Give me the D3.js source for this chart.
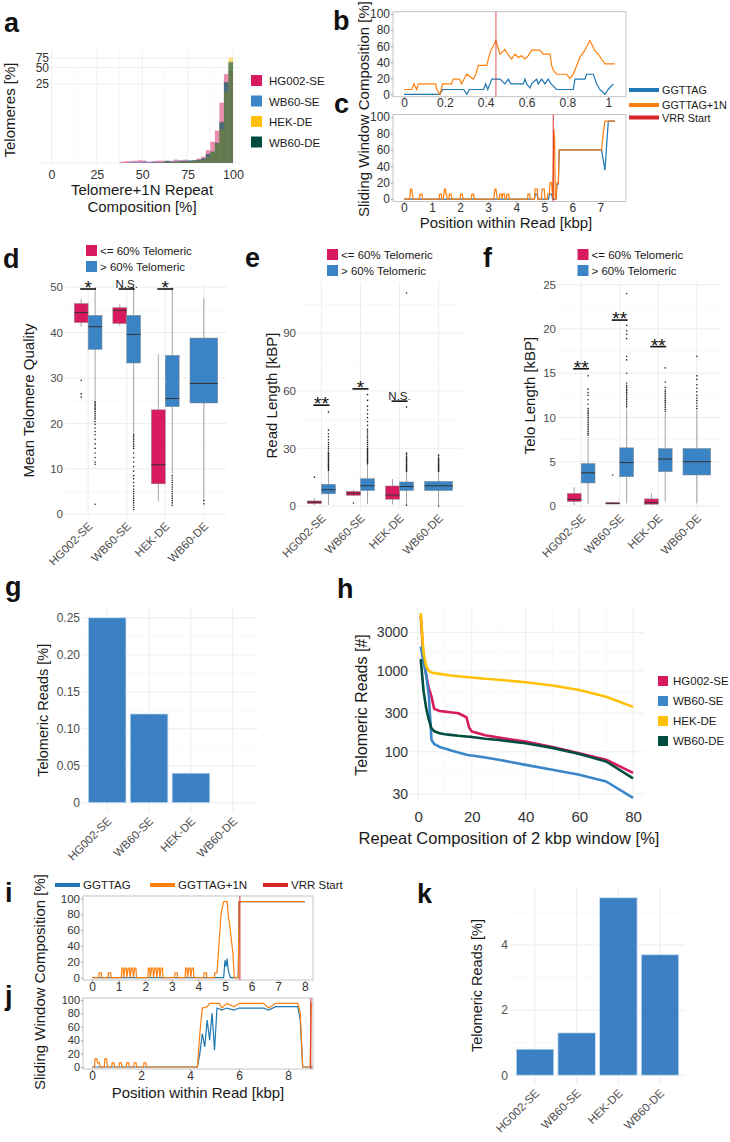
<!DOCTYPE html>
<html><head><meta charset="utf-8">
<script src="https://cdn.jsdelivr.net/npm/d3@7"></script>
<style>body{margin:0;background:#fff}svg{display:block}text{font-family:"Liberation Sans",Arial,sans-serif}</style>
</head><body><svg id="fig" width="730" height="1142"></svg>
<script>
// ---------------- DATA ----------------
const samples = ["HG002-SE","WB60-SE","HEK-DE","WB60-DE"];
const teloGroups = ["<= 60% Telomeric", "> 60% Telomeric"];
// panel a : histogram (% of telomeres per 2.5% bin, bin lower edges)
const histBins = [37.5,40,42.5,45,47.5,50,52.5,55,57.5,60,62.5,65,67.5,70,72.5,75,77.5,80,82.5,85,87.5,90,92.5,95,97.5];
const histHG002SE = [0.05,0.08,0.08,0.1,0.12,0.1,0.05,0.08,0.1,0.1,0.08,0.1,0.15,0.12,0.15,0.1,0.12,0.2,0.3,0.7,1.4,2.8,11,38,44];
const histWB60SE  = [0,0,0.05,0.05,0.05,0.08,0.05,0.05,0.05,0.05,0.08,0.08,0.1,0.1,0.1,0.12,0.12,0.14,0.22,0.45,0.6,1.25,4.1,26.5,65];
const histHEKDE   = [0,0,0,0,0,0,0,0,0.02,0.02,0.03,0.03,0.05,0.05,0.05,0.06,0.08,0.1,0.15,0.3,0.6,1.2,3,18,76];
const histWB60DE  = [0,0,0,0,0,0,0,0.02,0.02,0.03,0.1,0.05,0.05,0.08,0.08,0.1,0.12,0.15,0.2,0.45,0.6,1.3,4.5,27,62];
const histTicksX = [0,25,50,75,100];
const histTicksY = [25,50,75];
// panel b : sliding window (kbp, %)
const bOrange = [[0,6],[0.038,6],[0.049,13],[0.062,6],[0.07,13],[0.155,13],[0.16,6],[0.176,0],[0.189,13],[0.233,13],[0.241,19],[0.271,19],[0.282,13],[0.294,19],[0.307,25],[0.339,19],[0.352,25],[0.364,36],[0.405,36],[0.421,52],[0.45,67],[0.47,50],[0.494,56],[0.511,49],[0.527,44],[0.543,50],[0.56,46],[0.576,48],[0.592,44],[0.608,48],[0.625,55],[0.666,55],[0.682,50],[0.715,50],[0.723,36],[0.731,30],[0.747,25],[0.796,25],[0.812,20],[0.829,25],[0.861,46],[0.886,55],[0.91,67],[0.935,54],[0.951,50],[0.967,44],[0.984,38],[1.033,38]];
const bBlue = [[0,0],[0.176,0],[0.189,6],[0.292,6],[0.308,0],[0.32,6],[0.39,6],[0.4,13],[0.41,6],[0.43,19],[0.47,19],[0.494,13],[0.511,19],[0.523,13],[0.584,13],[0.592,19],[0.6,13],[0.617,8],[0.625,13],[0.649,19],[0.657,13],[0.674,19],[0.69,13],[0.706,19],[0.72,13],[0.747,6],[0.829,6],[0.837,19],[0.886,19],[0.894,25],[0.927,25],[0.943,13],[0.959,6],[0.984,0],[1.0,6],[1.025,13]];
const bVRR = 0.45;
const bTicksX = [0,0.2,0.4,0.6,0.8,1];
const pctTicks = [0,20,40,60,80,100];
// panel c
const cOrange = [[0,0],[0.2,0],[0.22,6],[0.24,12],[0.28,12],[0.3,6],[0.33,0],[0.55,0],[0.57,6],[0.64,6],[0.66,0],[1.25,0],[1.27,6],[1.33,6],[1.35,0],[1.4,0],[1.42,6],[1.44,12],[1.48,12],[1.5,6],[1.52,6],[1.54,0],[1.6,0],[1.62,6],[1.68,6],[1.7,0],[2.0,0],[2.02,6],[2.08,6],[2.1,0],[2.4,0],[2.42,6],[2.48,6],[2.5,0],[3.2,0],[3.22,6],[3.24,12],[3.28,12],[3.3,6],[3.33,0],[3.4,0],[3.42,6],[3.48,6],[3.5,0],[3.52,6],[3.58,6],[3.6,0],[3.65,0],[3.67,6],[3.73,6],[3.75,0],[4.4,0],[4.42,6],[4.48,6],[4.5,0],[4.65,0],[4.67,12],[4.75,12],[4.77,0],[4.9,0],[4.92,12],[5.0,12],[5.02,0],[5.1,0],[5.12,6],[5.18,6],[5.2,20],[5.26,20],[5.3,0],[5.34,85],[5.37,70],[5.39,0],[5.42,0],[5.45,20],[5.5,20],[5.53,60],[7.04,60],[7.1,80],[7.16,95],[7.52,95]];
const cBlue = [[0,0],[4.65,0],[4.68,6],[4.74,6],[4.77,0],[5.15,0],[5.18,6],[5.26,6],[5.3,0],[5.42,0],[5.45,18],[5.5,18],[5.53,60],[7.04,60],[7.16,35],[7.28,95],[7.52,95]];
const cVRR = 5.32;
const cTicksX = [0,1,2,3,4,5,6,7];
// panel d : mean telomere quality  [lowWhisker, Q1, median, Q3, highWhisker]
const qualLow  = [[41.3,42.2,44.4,46.4,47.4],[41.5,42,44.9,45.5,46.2],[2.8,6.7,10.9,23,35.2],null];
const qualHigh = [[25.2,36.3,41.3,43.8,50],[18,33.3,39.6,43.8,50],[9,23.7,25.5,35,50],[3.2,24.5,28.8,38.8,47.5]];
const qualLowOut  = [[29.5,26.5,25.8],[],[],null];
const qualHighOut = [[24.8,24.5,24.2,23.9,23.6,23.3,23,22.6,22.2,21.8,21.4,21,20.4,19.8,19,18.2,17.5,16.5,15.5,14.5,13.5,12.5,11.5,11,2.2],
  [17.6,17.2,16.8,16.4,16,15.5,15,14.5,13.5,12.5,11.5,10.5,9.5,8.5,7.8,7,6.2,5.5,5,4.5,4,3.5,3,2.5,2,1.5,1],
  [8.5,8,7.5,7,6.5,6,5.5,5,4.5,4,3.5,3,2.5,2],[3,2.3]];
const qualSig = ["*","N.S.","*",null];
const qualSigAt = [49.6,49.6,49.6,null];
const qualTicks = [0,10,20,30,40,50];
// panel e : read length
const readLow  = [[0.5,1.2,2,2.6,4],[5.2,5.5,6.6,7.6,8.5],[0.8,3.5,5.7,10.4,14],null];
const readHigh = [[0.5,6.3,8.4,11.3,18],[1,8,10.5,14.2,22],[1,8,10.1,12.5,17.5],[0.5,8,10.5,12.8,17.5]];
const readLowOut = [[15],[1.5],[],null];
const readHighOut = [[18.5,19,19.5,20,20.5,21,21.5,22,22.5,23,23.5,24,24.5,25,25.5,26,26.5,27,27.5,28,29,30,31,32,33,34.5,36,37.5,39.5,49],
  [22,22.5,23,23.5,24,24.5,25,25.5,26,26.5,27,27.5,28,28.5,29,29.5,30,31,32,33,34,35,36,37,38,39,40,42,44,46,48,50,52,55,58],
  [18,18.5,19,19.5,20,20.5,21,21.5,22,22.5,23,23.5,24,24.5,25,25.5,26,27,27.5,51.5,111,0.4],
  [18,18.5,19,19.5,20,20.5,21,21.5,22,22.5,23,23.5,24,24.5,25,26,26.5,0]];
const readSig = ["**","*","N.S.",null];
const readSigAt = [52.5,61,54.6,null];
const readTicks = [0,30,60,90];
// panel f : telomere length
const teloLow  = [[0.1,0.5,0.75,1.43,2.1],[0.15,0.22,0.3,0.4,0.5],[0.1,0.2,0.37,0.8,1.45],null];
const teloHigh = [[0.2,2.6,3.75,4.8,7.8],[0.3,3.3,4.9,6.57,11],[0.5,3.87,5.3,6.5,10.5],[0.3,3.5,5,6.5,10.8]];
const teloLowOut = [[],[3.5],[],null];
const teloHighOut = [[8,8.2,8.4,8.6,8.8,9,9.2,9.4,9.6,9.8,10,10.2,10.4,10.6,10.8,11,11.5,12,12.5,12.8,13.2,14.7],
  [11.2,11.4,11.6,11.8,12,12.2,12.4,12.6,12.8,13,13.2,13.4,13.6,13.9,15,16.5,16.9,18.9,19.4,19.8,20.4,24],
  [10.7,10.9,11.1,11.3,11.5,11.7,11.9,12.1,12.3,12.5,12.7,12.9,13.1,13.4,14,15.6],
  [11,11.3,11.6,11.9,12.2,12.5,12.9,13.3,13.7,14.3,14.7,16.9]];
const teloSig = ["**","**","**",null];
const teloSigAt = [15.5,21,18,null];
const teloTicks = [0,5,10,15,20,25];
// panel g
const gReads = [0.25,0.12,0.04,0];
const gTicks = [0,0.05,0.10,0.15,0.20,0.25];
// panel h : telomeric reads vs repeat composition threshold
const hX = [1,2,3,4,5,6,7,8,10,12,15,18,19,20,25,30,40,50,60,70,80];
const hHG002SE = [4800,1500,900,620,480,340,330,320,314,308,300,268,200,178,160,150,134,115,96,80,55];
const hWB60SE  = [2000,1300,900,500,141,125,120,115,110,105,98,92,91,90,85,80,69,60,52,43,27];
const hHEKDE   = [5200,1700,1150,1000,960,940,930,920,900,880,860,840,835,830,800,780,725,660,583,481,360];
const hWB60DE  = [1400,580,350,250,195,180,175,170,165,162,158,155,154,153,145,140,128,112,94,76,47];
const hTicksY = [30,100,300,1000,3000];
const hTicksX = [0,20,40,60,80];
// panel i
const iOrange = [[0,0],[0.25,0],[0.27,6],[0.35,6],[0.37,0],[0.6,0],[0.62,6],[0.7,6],[0.72,0],[1.1,0],[1.12,12],[1.17,12],[1.19,0],[1.24,12],[1.29,12],[1.31,0],[1.36,12],[1.41,12],[1.43,0],[1.48,12],[1.53,12],[1.55,0],[1.6,12],[1.65,12],[1.67,0],[2.1,0],[2.12,12],[2.17,12],[2.19,0],[2.24,12],[2.29,12],[2.31,0],[2.36,12],[2.41,12],[2.43,0],[2.48,12],[2.53,12],[2.55,0],[2.6,12],[2.65,12],[2.67,0],[3.1,0],[3.12,6],[3.2,6],[3.22,0],[3.5,0],[3.52,12],[3.57,12],[3.59,0],[3.64,12],[3.69,12],[3.71,0],[3.76,12],[3.81,12],[3.83,0],[4.2,0],[4.22,6],[4.3,6],[4.32,0],[4.6,0],[4.62,6],[4.7,6],[4.75,30],[4.85,80],[4.95,96],[5.08,96],[5.12,80],[5.2,60],[5.25,45],[5.3,30],[5.35,0],[5.5,0],[5.53,96],[8.0,96]];
const iBlue = [[0,0],[4.95,0],[5.0,22],[5.04,14],[5.08,24],[5.12,10],[5.2,0],[5.5,0],[5.53,96],[8.0,96]];
const iVRR = 5.56;
const iTicksX = [0,1,2,3,4,5,6,7,8];
// panel j
const jOrange = [[0,0],[0.1,0],[0.12,12],[0.2,12],[0.22,6],[0.3,6],[0.32,0],[0.5,0],[0.52,12],[0.6,12],[0.62,0],[0.8,0],[0.82,6],[0.9,6],[0.92,0],[1.1,0],[1.12,6],[1.2,6],[1.22,0],[1.4,0],[1.42,6],[1.5,6],[1.52,0],[1.7,0],[1.72,6],[1.8,6],[1.82,0],[2.1,0],[2.12,6],[2.2,6],[2.22,0],[4.3,0],[4.4,50],[4.5,88],[4.7,90],[4.8,95],[5.2,95],[5.3,88],[5.5,95],[5.8,90],[6.0,95],[7.0,95],[7.2,88],[7.5,95],[8.4,95],[8.5,80],[8.6,0],[8.9,0],[8.95,95],[9.0,95]];
const jBlue = [[0,0],[4.3,0],[4.4,20],[4.5,50],[4.6,30],[4.7,70],[4.8,40],[4.9,80],[5.0,25],[5.1,88],[5.3,85],[5.5,88],[5.8,85],[6,88],[7,88],[7.2,85],[7.5,90],[8.4,90],[8.5,70],[8.6,0],[9.0,0]];
const jVRR = 8.93;
const jTicksX = [0,2,4,6,8];
// panel k
const kReads = [0.8,1.3,5.45,3.7];
const kTicks = [0,2,4];
const motifSeries = ["GGTTAG","GGTTAG+1N","VRR Start"];

// ---------------- STYLE ----------------
const svg = d3.select("#fig");
const FONT = '"Liberation Sans", Arial, sans-serif';
const sampleColor = {"HG002-SE":"#d81b60","WB60-SE":"#3a86c8","HEK-DE":"#ffc107","WB60-DE":"#004d40"};
const groupColor = ["#d81b60","#3a83c5"];
const motifColor = {"GGTTAG":"#1f77b4","GGTTAG+1N":"#ff7f0e","VRR Start":"#d62728"};
const GRID = "#ebebeb", MINOR = "#f3f3f3", TICK = "#4d4d4d";

function txt(g, x, y, s, o = {}) {
  const t = g.append("text").attr("x", x).attr("y", y).text(s)
    .attr("font-size", o.size || 12).attr("fill", o.fill || "#1a1a1a")
    .attr("text-anchor", o.anchor || "start").attr("font-family", FONT);
  if (o.weight) t.attr("font-weight", o.weight);
  if (o.rotate != null) t.attr("transform", `rotate(${o.rotate},${x},${y})`);
  return t;
}
function letter(x, y, s) { txt(svg, x, y, s, {size: 27, weight: "bold", fill: "#111"}); }
function styleAxis(sel, size, fill) {
  sel.attr("font-family", FONT).attr("font-size", size);
  sel.select(".domain").remove();
  sel.selectAll("text").attr("fill", fill || TICK);
}
function hLines(g, y, vals, x0, x1, col, w) {
  g.selectAll(null).data(vals).enter().append("line")
    .attr("x1", x0).attr("x2", x1).attr("y1", d => y(d)).attr("y2", d => y(d))
    .attr("stroke", col).attr("stroke-width", w);
}
function vLines(g, x, vals, y0, y1, col, w) {
  g.selectAll(null).data(vals).enter().append("line")
    .attr("y1", y0).attr("y2", y1).attr("x1", d => x(d)).attr("x2", d => x(d))
    .attr("stroke", col).attr("stroke-width", w);
}
function rotLabels(g, x, cats, yBase, size) {
  cats.forEach(c => g.append("text")
    .attr("transform", `translate(${x(c) + 5},${yBase}) rotate(-45)`)
    .attr("text-anchor", "end").attr("font-size", size).attr("font-family", FONT)
    .attr("fill", TICK).text(c));
}

// ---------------- PANEL A ----------------
(function () {
  const g = svg.append("g");
  const x = d3.scaleLinear().domain([0, 100]).range([51.5, 233]);
  const y = d3.scaleSymlog().constant(1).domain([0, 96]).range([163, 52]);
  vLines(g, x, [12.5, 37.5, 62.5, 87.5], 50, 166, MINOR, 0.6);
  vLines(g, x, histTicksX, 50, 166, GRID, 0.8);
  hLines(g, y, [0, 25, 50, 75], 40, 240, GRID, 0.8);
  const series = [histHG002SE, histWB60SE, histHEKDE, histWB60DE];
  series.forEach((vals, si) => {
    g.selectAll(null).data(histBins).enter().append("rect")
      .attr("x", d => x(d)).attr("width", d => x(d + 2.5) - x(d))
      .attr("y", (d, i) => y(vals[i])).attr("height", (d, i) => y(0) - y(vals[i]))
      .attr("fill", sampleColor[samples[si]]).attr("fill-opacity", 0.5);
  });
  g.append("g").attr("transform", "translate(0,170)")
    .call(d3.axisBottom(x).tickValues(histTicksX).tickSize(0).tickPadding(0))
    .call(s => styleAxis(s, 12.5, "#333"));
  g.append("g").attr("transform", "translate(49,0)")
    .call(d3.axisLeft(y).tickValues(histTicksY).tickSize(0).tickPadding(0))
    .call(s => styleAxis(s, 12, "#333"));
  txt(g, 142, 195, "Telomere+1N Repeat", {size: 15, anchor: "middle"});
  txt(g, 142, 212, "Composition [%]", {size: 15, anchor: "middle"});
  txt(g, 15, 110, "Telomeres [%]", {size: 15, anchor: "middle", rotate: -90});
  samples.forEach((s, i) => {
    g.append("rect").attr("x", 251).attr("y", 75 + i * 20.5).attr("width", 11).attr("height", 11).attr("fill", sampleColor[s]);
    txt(g, 269, 85 + i * 20.5, s, {size: 11.5});
  });
  letter(4, 32, "a");
})();

// ---------------- PANELS B/C/I/J (line frames) ----------------
function framePanel(o) {
  const g = svg.append("g");
  const x = d3.scaleLinear().domain(o.xDomain).range([o.left, o.right]);
  const y = d3.scaleLinear().domain([-3, 103]).range([o.bottom, o.top]);
  g.append("rect").attr("x", o.left).attr("y", o.top).attr("width", o.right - o.left).attr("height", o.bottom - o.top)
    .attr("fill", "none").attr("stroke", "#c4c4c4").attr("stroke-width", 1);
  g.append("g").attr("transform", `translate(${o.left},0)`)
    .call(d3.axisLeft(y).tickValues(pctTicks).tickSize(2).tickPadding(1))
    .call(s => { styleAxis(s, o.fs || 12, "#333"); s.selectAll("line").attr("stroke", "#aaa"); });
  g.append("g").attr("transform", `translate(0,${o.bottom})`)
    .call(d3.axisBottom(x).tickValues(o.xTicks).tickSize(2).tickPadding(0).tickFormat(d3.format("~g")))
    .call(s => { styleAxis(s, 12, "#333"); s.selectAll("line").attr("stroke", "#aaa"); });
  const line = d3.line().x(d => x(d[0])).y(d => y(d[1]));
  g.append("path").datum(o.blue).attr("d", line).attr("fill", "none").attr("stroke", motifColor["GGTTAG"]).attr("stroke-width", 1.2);
  g.append("path").datum(o.orange).attr("d", line).attr("fill", "none").attr("stroke", motifColor["GGTTAG+1N"]).attr("stroke-width", 1.2);
  g.append("line").attr("x1", x(o.vrr)).attr("x2", x(o.vrr)).attr("y1", o.top).attr("y2", o.bottom)
    .attr("stroke", motifColor["VRR Start"]).attr("stroke-width", 1.3).attr("stroke-opacity", o.vrrOpacity || 0.75);
  return g;
}
framePanel({left: 393, right: 626, top: 11.7, bottom: 96.7, xDomain: [-0.054, 1.087], xTicks: bTicksX, blue: bBlue, orange: bOrange, vrr: bVRR, vrrOpacity: 0.6});
framePanel({left: 393, right: 626, top: 114.5, bottom: 201.5, xDomain: [-0.39, 7.91], xTicks: cTicksX, blue: cBlue, orange: cOrange, vrr: cVRR});
txt(svg, 506, 228, "Position within Read [kbp]", {size: 15, anchor: "middle"});
txt(svg, 369, 109, "Sliding Window Composition [%]", {size: 15, anchor: "middle", rotate: -90});
motifSeries.forEach((m, i) => {
  const yy = [90, 105, 117.5][i];
  svg.append("line").attr("x1", 629).attr("x2", 659).attr("y1", yy).attr("y2", yy).attr("stroke", motifColor[m]).attr("stroke-width", 4);
  txt(svg, 662, yy + 4, m, {size: 10.8});
});
letter(333, 30, "b");
letter(334, 113, "c");

framePanel({left: 83, right: 313, top: 896, bottom: 980, xDomain: [-0.34, 8.31], xTicks: iTicksX, blue: iBlue, orange: iOrange, vrr: iVRR, fs: 11.5});
framePanel({left: 83, right: 313, top: 998, bottom: 1069, xDomain: [-0.37, 9.02], xTicks: jTicksX, blue: jBlue, orange: jOrange, vrr: jVRR, fs: 11});
txt(svg, 198, 1098, "Position within Read [kbp]", {size: 15, anchor: "middle"});
txt(svg, 45, 982, "Sliding Window Composition [%]", {size: 15, anchor: "middle", rotate: -90});
motifSeries.forEach((m, i) => {
  const xx = [55, 150, 263][i];
  svg.append("line").attr("x1", xx).attr("x2", xx + 25).attr("y1", 885).attr("y2", 885).attr("stroke", motifColor[m]).attr("stroke-width", 4);
  txt(svg, xx + 28, 889, m, {size: 11.5});
});
letter(5, 902, "i");
letter(5, 1005, "j");

// ---------------- BOX PANELS D/E/F ----------------
function boxPanel(o) {
  const g = svg.append("g");
  const x = d3.scalePoint().domain(samples).range([o.left, o.right]).padding(0.6);
  const y = d3.scaleLinear().domain(o.yDomain).range([o.bottom, o.top]);
  const minor = o.ticks.map((t, i) => i < o.ticks.length - 1 ? (t + o.ticks[i + 1]) / 2 : t + (t - o.ticks[i - 1]) / 2)
    .filter(v => v < o.yDomain[1]);
  hLines(g, y, minor, o.left, o.right, MINOR, 0.6);
  hLines(g, y, o.ticks, o.left, o.right, GRID, 0.9);
  vLines(g, x, samples, o.top, o.bottom, GRID, 0.9);
  g.append("g").attr("transform", `translate(${o.left - 2},0)`)
    .call(d3.axisLeft(y).tickValues(o.ticks).tickSize(0).tickPadding(0))
    .call(s => styleAxis(s, 11.5));
  const bw = x.step() * 0.72;
  samples.forEach((c, i) => {
    const present = [0, 1].filter(k => (k ? o.high[i] : o.low[i]));
    const w = bw / present.length;
    present.forEach((k, j) => {
      const s = k ? o.high[i] : o.low[i];
      const outs = (k ? o.highOut[i] : o.lowOut[i]) || [];
      const cx = x(c) - bw / 2 + w * (j + 0.5);
      g.append("line").attr("x1", cx).attr("x2", cx).attr("y1", y(s[0])).attr("y2", y(s[4])).attr("stroke", "#8c8c8c").attr("stroke-width", 0.8);
      g.append("rect").attr("x", cx - w / 2).attr("y", y(s[3])).attr("width", w).attr("height", Math.max(1, y(s[1]) - y(s[3])))
        .attr("fill", groupColor[k]).attr("stroke", "#8c8c8c").attr("stroke-width", 0.5);
      g.append("line").attr("x1", cx - w / 2).attr("x2", cx + w / 2).attr("y1", y(s[2])).attr("y2", y(s[2])).attr("stroke", "#333").attr("stroke-width", 1);
      g.selectAll(null).data(outs).enter().append("circle").attr("cx", cx).attr("cy", d => y(d)).attr("r", 0.8).attr("fill", "#222");
    });
    if (o.sig[i]) {
      const ly = y(o.sigAt[i]);
      const x1 = x(c) - bw / 4, x2 = x(c) + bw / 4;
      g.append("line").attr("x1", x1 - 1).attr("x2", x2 + 1).attr("y1", ly).attr("y2", ly).attr("stroke", "#111").attr("stroke-width", 1.6);
      if (o.sig[i] === "N.S.") txt(g, x(c), ly - 1, "N.S.", {size: 11.5, anchor: "middle", fill: "#222"});
      else txt(g, x(c), ly + 5, o.sig[i], {size: 19, anchor: "middle", fill: "#111"});
    }
  });
  rotLabels(g, x, samples, o.bottom + 10, 11.5);
  txt(g, o.titleX, (o.top + o.bottom) / 2, o.title, {size: 15, anchor: "middle", rotate: -90});
  teloGroups.forEach((t, k) => {
    g.append("rect").attr("x", o.legX).attr("y", o.legY + k * 16).attr("width", 11).attr("height", 11).attr("fill", groupColor[k]);
    txt(g, o.legX + 14, o.legY + 9.5 + k * 16, t, {size: 11.5});
  });
}
boxPanel({left: 65, right: 227, top: 284, bottom: 517, yDomain: [-0.6, 50.7], ticks: qualTicks, low: qualLow, high: qualHigh, lowOut: qualLowOut, highOut: qualHighOut, sig: qualSig, sigAt: qualSigAt, title: "Mean Telomere Quality", titleX: 34, legX: 86, legY: 245});
boxPanel({left: 298, right: 462, top: 282, bottom: 509, yDomain: [-1.6, 116.7], ticks: readTicks, low: readLow, high: readHigh, lowOut: readLowOut, highOut: readHighOut, sig: readSig, sigAt: readSigAt, title: "Read Length [kBP]", titleX: 277, legX: 327, legY: 249});
boxPanel({left: 558, right: 720, top: 282, bottom: 509, yDomain: [-0.34, 25.3], ticks: teloTicks, low: teloLow, high: teloHigh, lowOut: teloLowOut, highOut: teloHighOut, sig: teloSig, sigAt: teloSigAt, title: "Telo Length [kBP]", titleX: 535, legX: 577.5, legY: 249});
letter(3, 268, "d");
letter(245, 267, "e");
letter(483, 267, "f");

// ---------------- BAR PANELS G/K ----------------
function barPanel(o) {
  const g = svg.append("g");
  const x = d3.scaleBand().domain(samples).range([o.left, o.right]).paddingInner(0.1).paddingOuter(0.15);
  const y = d3.scaleLinear().domain(o.yDomain).range([o.bottom, o.top]);
  const minor = o.ticks.map((t, i) => i < o.ticks.length - 1 ? (t + o.ticks[i + 1]) / 2 : t + (t - o.ticks[i - 1]) / 2)
    .filter(v => v < o.yDomain[1]);
  hLines(g, y, minor, o.left, o.right, MINOR, 0.6);
  hLines(g, y, o.ticks, o.left, o.right, GRID, 0.9);
  g.selectAll(null).data(samples).enter().append("line")
    .attr("x1", d => x(d) + x.bandwidth() / 2).attr("x2", d => x(d) + x.bandwidth() / 2)
    .attr("y1", o.top).attr("y2", o.bottom).attr("stroke", GRID).attr("stroke-width", 0.9);
  g.append("g").attr("transform", `translate(${o.left - 2},0)`)
    .call(d3.axisLeft(y).tickValues(o.ticks).tickSize(0).tickPadding(0).tickFormat(o.fmt))
    .call(s => styleAxis(s, 12));
  g.selectAll(null).data(samples).enter().append("rect")
    .attr("x", d => x(d)).attr("width", x.bandwidth())
    .attr("y", (d, i) => y(o.vals[i])).attr("height", (d, i) => y(0) - y(o.vals[i]))
    .attr("fill", "#3a80c3")
    .attr("stroke", "#cfe0f2").attr("stroke-width", 0.8)
    .attr("display", (d, i) => o.vals[i] > 0 ? null : "none");
  const px = d3.scalePoint().domain(samples).range([x(samples[0]) + x.bandwidth() / 2, x(samples[3]) + x.bandwidth() / 2]);
  rotLabels(g, px, samples, o.bottom + 10, 11.5);
  txt(g, o.titleX, (o.top + o.bottom) / 2, "Telomeric Reads [%]", {size: 14.5, anchor: "middle", rotate: -90});
}
barPanel({left: 82, right: 258, top: 608.5, bottom: 812, yDomain: [-0.0125, 0.2625], ticks: gTicks, vals: gReads, fmt: d => d === 0 ? "0" : d3.format(".2f")(d), titleX: 48});
barPanel({left: 510, right: 685, top: 887, bottom: 1084, yDomain: [-0.27, 5.78], ticks: kTicks, vals: kReads, fmt: d3.format("d"), titleX: 482});
letter(5, 596, "g");
letter(417, 903, "k");

// ---------------- PANEL H ----------------
(function () {
  const g = svg.append("g");
  const x = d3.scaleLinear().domain([-3, 84]).range([410, 643.8]);
  const y = d3.scaleLog().domain([24, 6000]).range([802, 608]);
  const yMinor = hTicksY.slice(0, -1).map((t, i) => Math.sqrt(t * hTicksY[i + 1]));
  hLines(g, y, yMinor, 410, 643.8, MINOR, 0.6);
  hLines(g, y, hTicksY, 410, 643.8, GRID, 0.9);
  vLines(g, x, [10, 30, 50, 70], 608, 802, MINOR, 0.6);
  vLines(g, x, hTicksX, 608, 802, GRID, 0.9);
  g.append("g").attr("transform", "translate(408,0)")
    .call(d3.axisLeft(y).tickValues(hTicksY).tickSize(0).tickPadding(0).tickFormat(d3.format("d")))
    .call(s => styleAxis(s, 14, "#333"));
  g.append("g").attr("transform", "translate(0,805)")
    .call(d3.axisBottom(x).tickValues(hTicksX).tickSize(0).tickPadding(6))
    .call(s => styleAxis(s, 15, "#333"));
  const series = [hHG002SE, hWB60SE, hHEKDE, hWB60DE];
  const line = d3.line().x((d, i) => x(hX[i])).y(d => y(d));
  series.forEach((vals, si) => {
    g.append("path").datum(vals).attr("d", line).attr("fill", "none")
      .attr("stroke", sampleColor[samples[si]]).attr("stroke-width", 2.6).attr("stroke-linejoin", "round");
  });
  txt(g, 509, 844, "Repeat Composition of 2 kbp window [%]", {size: 16.5, anchor: "middle"});
  txt(g, 367, 705, "Telomeric Reads [#]", {size: 16, anchor: "middle", rotate: -90});
  samples.forEach((s, i) => {
    g.append("rect").attr("x", 658).attr("y", 676 + i * 20).attr("width", 10).attr("height", 10).attr("fill", sampleColor[s]);
    txt(g, 673, 685 + i * 20, s, {size: 11.5});
  });
  letter(337, 598, "h");
})();
</script></body></html>
